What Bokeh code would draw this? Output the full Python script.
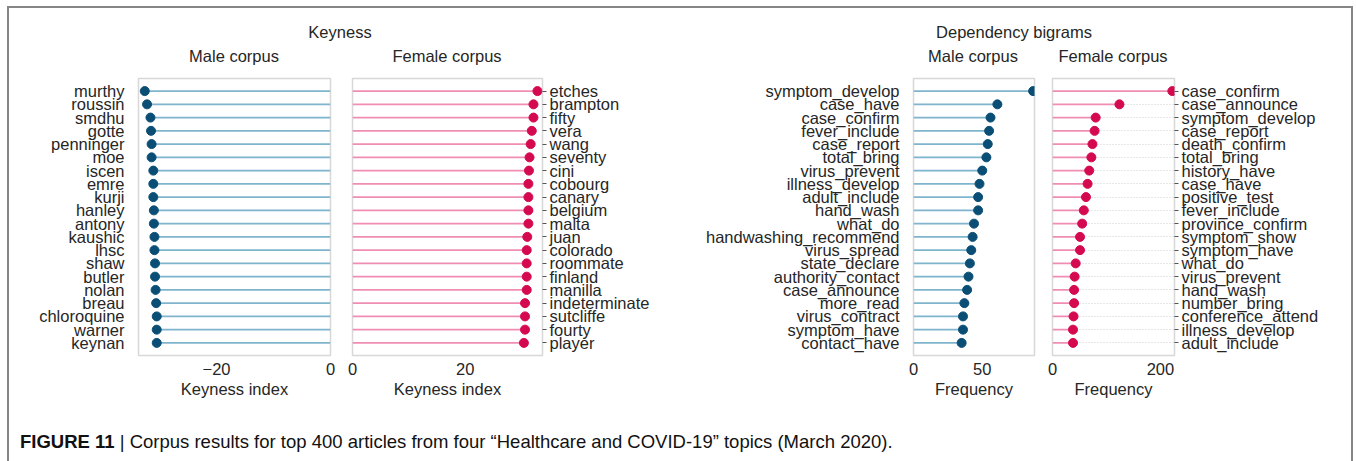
from bokeh.plotting import figure
from bokeh.models import Range1d, FixedTicker, Div, Spacer
from bokeh.layouts import row, column
from bokeh.embed import file_html
from bokeh.resources import INLINE

# ---- data -------------------------------------------------------------
male_keyness_terms = ["murthy", "roussin", "smdhu", "gotte", "penninger", "moe",
                      "iscen", "emre", "kurji", "hanley", "antony", "kaushic",
                      "lhsc", "shaw", "butler", "nolan", "breau", "chloroquine",
                      "warner", "keynan"]
male_keyness_values = [-32.6, -32.2, -31.6, -31.5, -31.4, -31.4, -31.1, -31.1,
                       -31.1, -31.0, -31.0, -30.9, -30.9, -30.8, -30.8, -30.7,
                       -30.6, -30.5, -30.5, -30.5]

female_keyness_terms = ["etches", "brampton", "fifty", "vera", "wang", "seventy",
                        "cini", "cobourg", "canary", "belgium", "malta", "juan",
                        "colorado", "roommate", "finland", "manilla",
                        "indeterminate", "sutcliffe", "fourty", "player"]
female_keyness_values = [32.8, 32.1, 32.1, 31.8, 31.6, 31.4, 31.3, 31.2, 31.2,
                         31.2, 31.2, 31.0, 30.9, 30.9, 30.9, 30.9, 30.6, 30.6,
                         30.6, 30.4]

male_bigram_terms = ["symptom_develop", "case_have", "case_confirm", "fever_include",
                     "case_report", "total_bring", "virus_prevent", "illness_develop",
                     "adult_include", "hand_wash", "what_do", "handwashing_recommend",
                     "virus_spread", "state_declare", "authority_contact",
                     "case_announce", "more_read", "virus_contract", "symptom_have",
                     "contact_have"]
male_bigram_freq = [87, 61, 56, 55, 54, 53, 50, 48, 47, 47, 44, 43, 42, 41, 40,
                    39, 37, 36, 36, 35]

female_bigram_terms = ["case_confirm", "case_announce", "symptom_develop", "case_report",
                       "death_confirm", "total_bring", "history_have", "case_have",
                       "positive_test", "fever_include", "province_confirm",
                       "symptom_show", "symptom_have", "what_do", "virus_prevent",
                       "hand_wash", "number_bring", "conference_attend",
                       "illness_develop", "adult_include"]
female_bigram_freq = [222, 124, 80, 78, 74, 72, 68, 65, 62, 58, 55, 51, 51, 43, 41,
                      40, 40, 39, 38, 38]

keyness_ticks_male = [-20, 0]
keyness_ticks_female = [0, 20]
freq_ticks_male = [0, 50]
freq_ticks_female = [0, 200]

# ---- style ------------------------------------------------------------
FONT = "Liberation Sans"
TEXT = "#262626"
MALE_DOT, MALE_STEM = "#0b4e75", "#7fb4cd"
FEMALE_DOT, FEMALE_STEM = "#d4094f", "#f08db2"
BORDER = "#858585"
FIG_H = 335
FS = "16.5px"


def lollipop(terms, values, width, mb_left, mb_right, x_start, x_end, ticks,
             xlabel, side, dot, stem, dotted_grid):
    n = len(terms)
    ys = list(range(n))
    p = figure(width=width, height=FIG_H,
               x_range=Range1d(x_start, x_end),
               y_range=Range1d(n - 1 + 0.95, -0.95),
               y_axis_location=side, output_backend="svg", toolbar_location=None,
               min_border_left=mb_left, min_border_right=mb_right,
               min_border_top=8, min_border_bottom=50)

    p.outline_line_color = "#d8d8d8"
    p.outline_line_width = 1.5
    p.xgrid.visible = False
    if dotted_grid:
        p.ygrid.grid_line_color = "#cfcfcf"
        p.ygrid.grid_line_dash = "1 2"
    else:
        p.ygrid.visible = False

    p.segment(x0=[0] * n, y0=ys, x1=values, y1=ys, line_color=stem, line_width=1.7)
    p.scatter(x=values, y=ys, size=9, fill_color=dot, line_color=dot)

    for ax in p.axis:
        ax.axis_line_color = None
        ax.minor_tick_line_color = None
        ax.major_label_text_font = FONT
        ax.major_label_text_color = TEXT

    ya = p.yaxis[0]
    ya.ticker = FixedTicker(ticks=ys)
    ya.major_label_overrides = {i: t for i, t in enumerate(terms)}
    ya.major_label_text_font_size = FS
    if side == "right":
        ya.major_tick_line_color = "#555555"
        ya.major_tick_in = 0
        ya.major_tick_out = 4
        ya.major_label_standoff = 3
    else:
        ya.major_tick_line_color = None
        ya.major_label_standoff = 8

    xa = p.xaxis[0]
    xa.ticker = FixedTicker(ticks=ticks)
    xa.major_label_overrides = {t: str(t).replace("-", "\u2212") for t in ticks}
    xa.major_tick_line_color = None
    xa.major_label_text_font_size = FS
    xa.major_label_standoff = 1
    xa.axis_label = xlabel
    xa.axis_label_text_font = FONT
    xa.axis_label_text_font_size = FS
    xa.axis_label_text_font_style = "normal"
    xa.axis_label_text_color = TEXT
    xa.axis_label_standoff = 2
    return p


p1 = lollipop(male_keyness_terms, male_keyness_values, 332, 129, 11, -33.7, 0,
              keyness_ticks_male, "Keyness index", "left", MALE_DOT, MALE_STEM, False)
p2 = lollipop(female_keyness_terms, female_keyness_values, 339, 11, 138, 0, 33.7,
              keyness_ticks_female, "Keyness index", "right", FEMALE_DOT, FEMALE_STEM,
              False)
p3 = lollipop(male_bigram_terms, male_bigram_freq, 363, 233, 9, 0, 88,
              freq_ticks_male, "Frequency", "left", MALE_DOT, MALE_STEM, False)
p4 = lollipop(female_bigram_terms, female_bigram_freq, 308, 9, 177, 0, 226,
              freq_ticks_female, "Frequency", "right", FEMALE_DOT, FEMALE_STEM, True)

CONTENT_W = 1342
font_css = f"font-family:'{FONT}',Arial,sans-serif;color:{TEXT};"


def label(text, cx, top):
    return (f'<span style="position:absolute;left:{cx}px;top:{top}px;'
            f'transform:translateX(-50%);white-space:nowrap;">{text}</span>')


header = Div(width=CONTENT_W, height=62, margin=0, text=(
    f'<div style="position:relative;width:{CONTENT_W}px;height:62px;{font_css}font-size:{FS};">'
    + label("Keyness", 331, 13)
    + label("Dependency bigrams", 1005, 13)
    + label("Male corpus", 225, 37)
    + label("Female corpus", 438, 37)
    + label("Male corpus", 964, 37)
    + label("Female corpus", 1104, 37)
    + '</div>'))

caption = Div(width=CONTENT_W, height=56, margin=0, text=(
    f'<div style="position:relative;width:{CONTENT_W}px;height:56px;{font_css}font-size:18.5px;">'
    '<span style="position:absolute;left:11px;top:24px;white-space:nowrap;color:#111;">'
    '<b>FIGURE 11</b> | Corpus results for top 400 articles from four '
    '\u201cHealthcare and COVID-19\u201d topics (March 2020).</span>'
    '</div>'))

content = column(header, row(p1, p2, p3, p4), caption)

top_line = Spacer(width=CONTENT_W + 4, height=2, styles={"background-color": BORDER})
left_line = Spacer(width=2, height=453, styles={"background-color": BORDER})
right_line = Spacer(width=2, height=453, styles={"background-color": BORDER})
framed = column(top_line, row(left_line, content, right_line))

page = column(Spacer(width=1356, height=6),
              row(Spacer(width=7, height=455), framed))

open("out.html", "w").write(file_html(page, INLINE))
